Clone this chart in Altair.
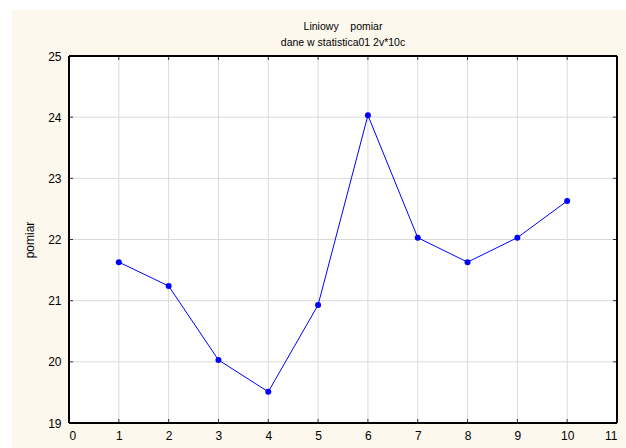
import altair as alt
import pandas as pd

x_vals = [1, 2, 3, 4, 5, 6, 7, 8, 9, 10]
y_vals = [21.63, 21.24, 20.03, 19.51, 20.93, 24.03, 22.03, 21.63, 22.03, 22.63]
x_ticks = list(range(0, 12))
y_ticks = [19, 20, 21, 22, 23, 24, 25]
title_lines = ["Liniowy\u00a0\u00a0\u00a0\u00a0pomiar", "dane w statistica01 2v*10c"]

W, H = 548, 367
PAD = {"left": 69, "top": 56, "right": 9, "bottom": 25}

df = pd.DataFrame({"x": x_vals, "y": y_vals})
dfx = pd.DataFrame({"t": x_ticks})
dfy = pd.DataFrame({"t": y_ticks})

xs = alt.Scale(domain=[0, 11], nice=False, zero=False)
ys = alt.Scale(domain=[19, 25], nice=False, zero=False)
FONT = "Liberation Sans"

cream = alt.Chart(df).mark_rect(fill="#FDF8EE", stroke=None).encode(
    x=alt.value(-57), x2=alt.value(W + PAD["right"]),
    y=alt.value(-46), y2=alt.value(H + PAD["bottom"]))
white = alt.Chart(df).mark_rect(fill="white").encode(
    x=alt.value(0), x2=alt.value(W), y=alt.value(0), y2=alt.value(H))

xaxis = alt.Axis(values=x_ticks, grid=False, ticks=False, domain=False,
                 labelFont=FONT, labelFontSize=12, labelColor="black",
                 labelPadding=7, title=None, zindex=1, format="d")
yaxis = alt.Axis(values=y_ticks, grid=False, ticks=False, domain=False,
                 labelFont=FONT, labelFontSize=12, labelColor="black",
                 labelPadding=8, title="pomiar", titleFont=FONT,
                 titleFontSize=12, titleFontWeight="normal", titleColor="black",
                 titlePadding=11, zindex=1, format="d")

vgrid = alt.Chart(dfx).mark_rule(color="#DADADA", strokeWidth=1).encode(
    x=alt.X("t:Q", scale=xs, axis=xaxis), y=alt.value(0), y2=alt.value(H))
hgrid = alt.Chart(dfy).mark_rule(color="#DADADA", strokeWidth=1).encode(
    y=alt.Y("t:Q", scale=ys, axis=yaxis), x=alt.value(0), x2=alt.value(W))

tb = alt.Chart(dfx).mark_rule(color="#333333", strokeWidth=1).encode(
    x=alt.X("t:Q", scale=xs), y=alt.value(H - 4), y2=alt.value(H))
tt = alt.Chart(dfx).mark_rule(color="#333333", strokeWidth=1).encode(
    x=alt.X("t:Q", scale=xs), y=alt.value(0), y2=alt.value(4))
tl = alt.Chart(dfy).mark_rule(color="#333333", strokeWidth=1).encode(
    y=alt.Y("t:Q", scale=ys), x=alt.value(0), x2=alt.value(4))
tr = alt.Chart(dfy).mark_rule(color="#333333", strokeWidth=1).encode(
    y=alt.Y("t:Q", scale=ys), x=alt.value(W - 4), x2=alt.value(W))

frame = alt.Chart(df).mark_rect(fill=None, stroke="black", strokeWidth=1).encode(
    x=alt.value(0), x2=alt.value(W), y=alt.value(0), y2=alt.value(H))

line = alt.Chart(df).mark_line(color="#0000FF", strokeWidth=1).encode(
    x=alt.X("x:Q", scale=xs), y=alt.Y("y:Q", scale=ys))
pts = alt.Chart(df).mark_circle(color="#0000FF", opacity=1, size=36).encode(
    x=alt.X("x:Q", scale=xs), y=alt.Y("y:Q", scale=ys))

chart = alt.layer(cream, white, vgrid, hgrid, tb, tt, tl, tr, frame, line, pts).properties(
    width=W, height=H,
    title=alt.Title(title_lines,
                    font=FONT, fontSize=10.5, fontWeight="normal", color="black",
                    anchor="middle", frame="group", offset=10, dy=48,
                    lineHeight=16, zindex=1),
    autosize=alt.AutoSizeParams(type="none"),
    padding=PAD,
    background="white",
).configure_view(stroke=None, fill=None)

chart.save("out.html", embed_options={"renderer": "svg", "actions": False})
